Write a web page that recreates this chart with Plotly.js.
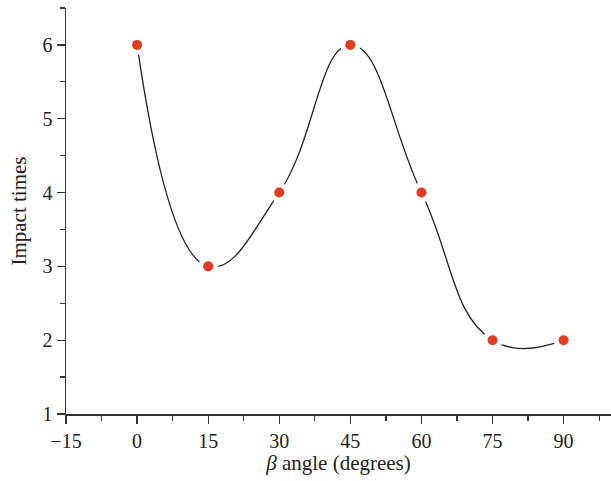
<!DOCTYPE html>
<html>
<head>
<meta charset="utf-8">
<script src="https://cdn.plot.ly/plotly-3.0.1.min.js"></script>
<style>html,body{margin:0;padding:0;background:#fff;}#chart{width:611px;height:481px;}</style>
</head>
<body>
<div id="chart"></div>
<script>
var angles = [0, 15, 30, 45, 60, 75, 90];
var impacts = [6, 3, 4, 6, 4, 2, 2];
var xTicks = [-15, 0, 15, 30, 45, 60, 75, 90];
var yTicks = [1, 2, 3, 4, 5, 6];

var tickFont = {family: '"Liberation Serif", "DejaVu Serif", serif', size: 20, color: '#222'};
var titleFont = {family: '"Liberation Serif", "DejaVu Serif", serif', size: 21, color: '#222'};

var traces = [
  {x: angles, y: impacts, mode: 'lines', line: {shape: 'spline', smoothing: 1.3, color: '#222', width: 1.3}, hoverinfo: 'skip'},
  {x: angles, y: impacts, mode: 'markers', marker: {color: '#ffffff', size: 20}, hoverinfo: 'skip'},
  {x: angles, y: impacts, mode: 'markers', marker: {color: '#e63a1e', size: 10}}
];

var layout = {
  width: 611, height: 481,
  margin: {l: 66, r: 0, t: 8, b: 67},
  paper_bgcolor: '#fff', plot_bgcolor: '#fff',
  showlegend: false,
  font: tickFont,
  xaxis: {
    range: [-15, 100], tickvals: xTicks, ticktext: xTicks.map(function(v){return v < 0 ? '\u2212' + Math.abs(v) : String(v);}),
    ticks: 'outside', ticklen: 8, tickwidth: 1.3, tickcolor: '#333',
    minor: {dtick: 7.5, ticks: 'outside', ticklen: 5, tickwidth: 1.3, tickcolor: '#333', showgrid: false},
    showline: true, linecolor: '#333', linewidth: 1.5, showgrid: false, zeroline: false,
    tickfont: tickFont,
    title: {text: '<i>β</i> angle (degrees)', font: titleFont, standoff: 4}
  },
  yaxis: {
    range: [1, 6.5], tickvals: yTicks,
    ticks: 'outside', ticklen: 8, tickwidth: 1.3, tickcolor: '#333',
    minor: {dtick: 0.5, ticks: 'outside', ticklen: 5, tickwidth: 1.3, tickcolor: '#333', showgrid: false},
    showline: true, linecolor: '#333', linewidth: 1.5, showgrid: false, zeroline: false,
    tickfont: tickFont,
    title: {text: 'Impact times', font: titleFont, standoff: 10}
  }
};

Plotly.newPlot('chart', traces, layout, {displayModeBar: false, staticPlot: true});
</script>
</body>
</html>
